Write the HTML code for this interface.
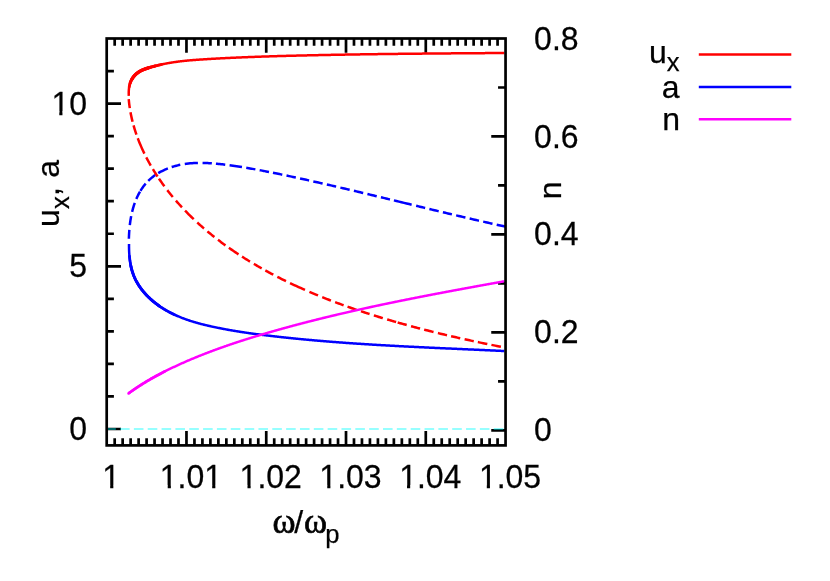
<!DOCTYPE html>
<html><head><meta charset="utf-8"><title>plot</title>
<style>html,body{margin:0;padding:0;background:#fff;}svg{display:block;}text{font-family:"Liberation Sans",sans-serif;fill:#000;}.sym{font-family:"Liberation Serif",serif;}</style></head><body>
<svg width="830" height="581" viewBox="0 0 830 581">
<rect width="830" height="581" fill="#fff"/>
<path d="M114.68 445.4 V438.2 M114.68 38.5 V45.7 M122.65 445.4 V438.2 M122.65 38.5 V45.7 M130.63 445.4 V438.2 M130.63 38.5 V45.7 M138.61 445.4 V438.2 M138.61 38.5 V45.7 M146.59 445.4 V438.2 M146.59 38.5 V45.7 M154.56 445.4 V438.2 M154.56 38.5 V45.7 M162.54 445.4 V438.2 M162.54 38.5 V45.7 M170.52 445.4 V438.2 M170.52 38.5 V45.7 M178.49 445.4 V438.2 M178.49 38.5 V45.7 M186.47 445.4 V431.1 M186.47 38.5 V52.8 M194.45 445.4 V438.2 M194.45 38.5 V45.7 M202.42 445.4 V438.2 M202.42 38.5 V45.7 M210.4 445.4 V438.2 M210.4 38.5 V45.7 M218.38 445.4 V438.2 M218.38 38.5 V45.7 M226.36 445.4 V438.2 M226.36 38.5 V45.7 M234.33 445.4 V438.2 M234.33 38.5 V45.7 M242.31 445.4 V438.2 M242.31 38.5 V45.7 M250.29 445.4 V438.2 M250.29 38.5 V45.7 M258.26 445.4 V438.2 M258.26 38.5 V45.7 M266.24 445.4 V431.1 M266.24 38.5 V52.8 M274.22 445.4 V438.2 M274.22 38.5 V45.7 M282.19 445.4 V438.2 M282.19 38.5 V45.7 M290.17 445.4 V438.2 M290.17 38.5 V45.7 M298.15 445.4 V438.2 M298.15 38.5 V45.7 M306.12 445.4 V438.2 M306.12 38.5 V45.7 M314.1 445.4 V438.2 M314.1 38.5 V45.7 M322.08 445.4 V438.2 M322.08 38.5 V45.7 M330.06 445.4 V438.2 M330.06 38.5 V45.7 M338.03 445.4 V438.2 M338.03 38.5 V45.7 M346.01 445.4 V431.1 M346.01 38.5 V52.8 M353.99 445.4 V438.2 M353.99 38.5 V45.7 M361.96 445.4 V438.2 M361.96 38.5 V45.7 M369.94 445.4 V438.2 M369.94 38.5 V45.7 M377.92 445.4 V438.2 M377.92 38.5 V45.7 M385.89 445.4 V438.2 M385.89 38.5 V45.7 M393.87 445.4 V438.2 M393.87 38.5 V45.7 M401.85 445.4 V438.2 M401.85 38.5 V45.7 M409.83 445.4 V438.2 M409.83 38.5 V45.7 M417.8 445.4 V438.2 M417.8 38.5 V45.7 M425.78 445.4 V431.1 M425.78 38.5 V52.8 M433.76 445.4 V438.2 M433.76 38.5 V45.7 M441.73 445.4 V438.2 M441.73 38.5 V45.7 M449.71 445.4 V438.2 M449.71 38.5 V45.7 M457.69 445.4 V438.2 M457.69 38.5 V45.7 M465.66 445.4 V438.2 M465.66 38.5 V45.7 M473.64 445.4 V438.2 M473.64 38.5 V45.7 M481.62 445.4 V438.2 M481.62 38.5 V45.7 M489.6 445.4 V438.2 M489.6 38.5 V45.7 M497.57 445.4 V438.2 M497.57 38.5 V45.7 M106.7 429 H121 M106.7 396.46 H113.9 M106.7 363.92 H113.9 M106.7 331.38 H113.9 M106.7 298.83 H113.9 M106.7 266.29 H121 M106.7 233.75 H113.9 M106.7 201.21 H113.9 M106.7 168.67 H113.9 M106.7 136.12 H113.9 M106.7 103.58 H121 M106.7 71.04 H113.9 M505.55 430.3 H491.25 M505.55 381.32 H498.05 M505.55 332.35 H491.25 M505.55 283.38 H498.05 M505.55 234.4 H491.25 M505.55 185.43 H498.05 M505.55 136.45 H491.25 M505.55 87.48 H498.05" stroke="#000" stroke-width="2.7" fill="none"/>
<line x1="106.2" y1="429" x2="505.55" y2="429" stroke="#00ffff" stroke-opacity="0.41" stroke-width="2" stroke-dasharray="9.6 4.24"/>
<path d="M129.02 243.88 L129.02 244.48 L129.01 245.07 L129.01 245.67 L129.01 246.26 L129.02 246.86 L129.03 247.46 L129.04 248.07 L129.05 248.67 L129.06 249.28 L129.08 249.88 L129.10 250.49 L129.13 251.10 L129.15 251.71 L129.18 252.32 L129.22 252.93 L129.25 253.54 L129.30 254.15 L129.34 254.76 L129.39 255.38 L129.44 255.99 L129.49 256.60 L129.55 257.22 L129.62 257.83 L129.68 258.44 L129.75 259.05 L129.83 259.66 L129.91 260.27 L129.99 260.89 L130.08 261.50 L130.17 262.10 L130.27 262.71 L130.37 263.32 L130.48 263.92 L130.59 264.53 L130.71 265.13 L130.83 265.73 L130.96 266.33 L131.09 266.93 L131.23 267.53 L131.37 268.12 L131.52 268.72 L131.68 269.31 L131.84 269.89 L132.00 270.48 L132.17 271.06 L132.35 271.65 L132.53 272.22 L132.72 272.80 L132.92 273.37 L133.12 273.94 L133.32 274.51 L133.54 275.07 L133.76 275.63 L133.98 276.19 L134.22 276.75 L134.45 277.30 L134.70 277.85 L134.95 278.39 L135.20 278.94 L135.47 279.48 L135.73 280.01 L136.00 280.55 L136.28 281.08 L136.57 281.61 L136.86 282.13 L137.15 282.65 L137.45 283.17 L137.76 283.69 L138.07 284.20 L138.38 284.71 L138.70 285.21 L139.03 285.72 L139.36 286.22 L139.69 286.71 L140.03 287.21 L140.38 287.70 L140.73 288.18 L141.08 288.67 L141.44 289.15 L141.81 289.63 L142.17 290.10 L142.55 290.57 L142.92 291.04 L143.31 291.51 L143.69 291.97 L144.08 292.43 L144.48 292.88 L144.87 293.34 L145.28 293.78 L145.68 294.23 L146.09 294.67 L146.51 295.11 L146.92 295.55 L147.35 295.98 L147.77 296.41 L148.20 296.84 L148.63 297.26 L149.07 297.68 L149.51 298.10 L149.95 298.51 L150.40 298.92 L150.85 299.33 L151.30 299.74 L151.76 300.14 L152.21 300.53 L152.68 300.93 L153.14 301.32 L153.61 301.71 L154.08 302.09 L154.55 302.47 L155.03 302.85 L155.51 303.22 L155.99 303.60 L156.47 303.96 L156.96 304.33 L157.45 304.69 L157.94 305.05 L158.44 305.40 L158.93 305.75 L159.43 306.10 L159.93 306.44 L160.43 306.79 L160.94 307.12 L161.45 307.46 L161.95 307.79 L162.46 308.12 L162.98 308.44 L163.49 308.76 L164.01 309.08 L164.52 309.39 L165.04 309.70 L165.56 310.01 L166.09 310.32 L166.61 310.62 L167.14 310.91 L167.66 311.21 L168.19 311.50 L168.72 311.79 L169.25 312.07 L169.79 312.36 L170.32 312.63 L170.86 312.91 L171.40 313.18 L171.94 313.45 L172.48 313.72 L173.02 313.99 L173.56 314.25 L174.11 314.50 L174.65 314.76 L175.20 315.01 L175.75 315.26 L176.30 315.51 L176.85 315.76 L177.40 316.00 L177.96 316.24 L178.51 316.47 L179.07 316.71 L179.63 316.94 L180.19 317.17 L180.75 317.39 L181.31 317.62 L181.87 317.84 L182.43 318.06 L183.00 318.27 L183.56 318.49 L184.13 318.70 L184.70 318.91 L185.26 319.12 L185.83 319.32 L186.40 319.52 L186.98 319.72 L187.55 319.92 L188.12 320.12 L188.69 320.31 L189.27 320.50 L189.85 320.69 L190.42 320.88 L191.00 321.07 L191.58 321.25 L192.16 321.43 L192.74 321.61 L193.32 321.79 L193.90 321.96 L194.48 322.14 L195.06 322.31 L195.65 322.48 L196.23 322.65 L196.81 322.81 L197.40 322.98 L197.99 323.14 L198.57 323.30 L199.16 323.46 L199.75 323.62 L200.34 323.78 L200.92 323.93 L201.51 324.09 L202.10 324.24 L202.69 324.39 L203.28 324.54 L203.87 324.69 L204.47 324.83 L205.06 324.98 L205.65 325.12 L206.24 325.26 L206.83 325.40 L207.43 325.54 L208.02 325.68 L208.61 325.82 L209.21 325.95 L209.80 326.09 L210.40 326.22 L210.99 326.35 L211.59 326.48 L212.18 326.61 L212.78 326.74 L213.37 326.87 L213.97 327.00 L214.56 327.13 L215.16 327.25 L215.75 327.38 L216.35 327.50 L216.94 327.62 L217.54 327.74 L218.14 327.87 L218.73 327.99 L219.33 328.10 L219.92 328.22 L220.52 328.34 L221.11 328.46 L221.71 328.57 L222.31 328.69 L222.90 328.80 L223.50 328.92 L224.10 329.03 L224.69 329.14 L225.29 329.25 L225.88 329.36 L226.48 329.47 L227.08 329.58 L227.67 329.69 L228.27 329.80 L228.87 329.90 L229.46 330.01 L230.06 330.12 L230.66 330.22 L231.25 330.32 L231.85 330.43 L232.45 330.53 L233.05 330.63 L233.64 330.73 L234.24 330.83 L234.84 330.93 L235.43 331.03 L236.03 331.13 L236.63 331.23 L237.23 331.32 L237.82 331.42 L238.42 331.52 L239.02 331.61 L239.62 331.70 L240.21 331.80 L240.81 331.89 L241.41 331.98 L242.01 332.08 L242.60 332.17 L243.20 332.26 L243.80 332.35 L244.40 332.44 L245.00 332.53 L245.59 332.62 L246.19 332.70 L246.79 332.79 L247.39 332.88 L247.99 332.96 L248.59 333.05 L249.18 333.14 L249.78 333.22 L250.38 333.30 L250.98 333.39 L251.58 333.47 L252.18 333.55 L252.77 333.64 L253.37 333.72 L253.97 333.80 L254.57 333.88 L255.17 333.96 L255.77 334.04 L256.37 334.12 L256.97 334.20 L257.56 334.28 L258.16 334.36 L258.76 334.43 L259.36 334.51 L259.96 334.59 L260.56 334.66 L261.16 334.74 L261.76 334.82 L262.36 334.89 L262.96 334.97 L263.56 335.04 L264.16 335.12 L264.76 335.19 L265.36 335.26 L265.95 335.34 L266.55 335.41 L267.15 335.48 L267.75 335.55 L268.35 335.63 L268.95 335.70 L269.55 335.77 L270.15 335.84 L270.75 335.91 L271.35 335.98 L271.95 336.05 L272.55 336.12 L273.15 336.19 L273.75 336.26 L274.35 336.33 L274.95 336.40 L275.55 336.47 L276.15 336.54 L276.75 336.60 L277.35 336.67 L277.96 336.74 L278.56 336.81 L279.16 336.87 L279.76 336.94 L280.36 337.01 L280.96 337.07 L281.56 337.14 L282.16 337.20 L282.76 337.27 L283.36 337.33 L283.96 337.40 L284.56 337.46 L285.16 337.53 L285.76 337.59 L286.36 337.66 L286.97 337.72 L287.57 337.78 L288.17 337.85 L288.77 337.91 L289.37 337.97 L289.97 338.03 L290.57 338.10 L291.17 338.16 L291.78 338.22 L292.38 338.28 L292.98 338.34 L293.58 338.40 L294.18 338.46 L294.78 338.53 L295.38 338.59 L295.99 338.65 L296.59 338.71 L297.19 338.76 L297.79 338.82 L298.39 338.88 L298.99 338.94 L299.59 339.00 L300.20 339.06 L300.80 339.12 L301.40 339.17 L302.00 339.23 L302.60 339.29 L303.21 339.35 L303.81 339.40 L304.41 339.46 L305.01 339.52 L305.61 339.57 L306.22 339.63 L306.82 339.69 L307.42 339.74 L308.02 339.80 L308.62 339.85 L309.23 339.91 L309.83 339.96 L310.43 340.02 L311.03 340.07 L311.64 340.12 L312.24 340.18 L312.84 340.23 L313.44 340.29 L314.05 340.34 L314.65 340.39 L315.25 340.45 L315.85 340.50 L316.46 340.55 L317.06 340.60 L317.66 340.65 L318.26 340.71 L318.87 340.76 L319.47 340.81 L320.07 340.86 L320.68 340.91 L321.28 340.96 L321.88 341.01 L322.48 341.06 L323.09 341.11 L323.69 341.16 L324.29 341.21 L324.90 341.26 L325.50 341.31 L326.10 341.36 L326.70 341.41 L327.31 341.46 L327.91 341.51 L328.51 341.56 L329.12 341.60 L329.72 341.65 L330.32 341.70 L330.93 341.75 L331.53 341.80 L332.13 341.84 L332.74 341.89 L333.34 341.94 L333.94 341.98 L334.55 342.03 L335.15 342.08 L335.75 342.12 L336.36 342.17 L336.96 342.21 L337.56 342.26 L338.17 342.31 L338.77 342.35 L339.38 342.40 L339.98 342.44 L340.58 342.49 L341.19 342.53 L341.79 342.58 L342.39 342.62 L343.00 342.66 L343.60 342.71 L344.20 342.75 L344.81 342.79 L345.41 342.84 L346.02 342.88 L346.62 342.92 L347.22 342.97 L347.83 343.01 L348.43 343.05 L349.04 343.09 L349.64 343.14 L350.24 343.18 L350.85 343.22 L351.45 343.26 L352.05 343.30 L352.66 343.35 L353.26 343.39 L353.87 343.43 L354.47 343.47 L355.08 343.51 L355.68 343.55 L356.28 343.59 L356.89 343.63 L357.49 343.67 L358.10 343.71 L358.70 343.75 L359.30 343.79 L359.91 343.83 L360.51 343.87 L361.12 343.91 L361.72 343.95 L362.33 343.99 L362.93 344.03 L363.53 344.07 L364.14 344.11 L364.74 344.14 L365.35 344.18 L365.95 344.22 L366.56 344.26 L367.16 344.30 L367.76 344.33 L368.37 344.37 L368.97 344.41 L369.58 344.45 L370.18 344.48 L370.79 344.52 L371.39 344.56 L372.00 344.59 L372.60 344.63 L373.20 344.67 L373.81 344.70 L374.41 344.74 L375.02 344.78 L375.62 344.81 L376.23 344.85 L376.83 344.89 L377.44 344.92 L378.04 344.96 L378.65 344.99 L379.25 345.03 L379.86 345.06 L380.46 345.10 L381.06 345.13 L381.67 345.17 L382.27 345.20 L382.88 345.24 L383.48 345.27 L384.09 345.31 L384.69 345.34 L385.30 345.37 L385.90 345.41 L386.51 345.44 L387.11 345.48 L387.72 345.51 L388.32 345.54 L388.93 345.58 L389.53 345.61 L390.14 345.64 L390.74 345.68 L391.35 345.71 L391.95 345.74 L392.55 345.78 L393.16 345.81 L393.76 345.84 L394.37 345.87 L394.97 345.91 L395.58 345.94 L396.18 345.97 L396.79 346.00 L397.39 346.04 L398.00 346.07 L398.60 346.10 L399.21 346.13 L399.81 346.16 L400.42 346.20 L401.02 346.23 L401.63 346.26 L402.23 346.29 L402.84 346.32 L403.44 346.35 L404.05 346.38 L404.65 346.42 L405.26 346.45 L405.86 346.48 L406.47 346.51 L407.07 346.54 L407.68 346.57 L408.28 346.60 L408.89 346.63 L409.49 346.66 L410.10 346.69 L410.70 346.72 L411.31 346.75 L411.91 346.78 L412.52 346.81 L413.12 346.84 L413.73 346.87 L414.33 346.90 L414.94 346.93 L415.54 346.96 L416.15 346.99 L416.75 347.02 L417.36 347.05 L417.96 347.08 L418.57 347.11 L419.17 347.14 L419.77 347.17 L420.38 347.20 L420.98 347.23 L421.59 347.25 L422.19 347.28 L422.80 347.31 L423.40 347.34 L424.01 347.37 L424.61 347.40 L425.22 347.43 L425.82 347.46 L426.43 347.49 L427.03 347.51 L427.64 347.54 L428.24 347.57 L428.85 347.60 L429.45 347.63 L430.06 347.66 L430.66 347.68 L431.27 347.71 L431.87 347.74 L432.48 347.77 L433.08 347.80 L433.69 347.82 L434.29 347.85 L434.90 347.88 L435.50 347.91 L436.11 347.94 L436.71 347.96 L437.32 347.99 L437.92 348.02 L438.53 348.05 L439.13 348.07 L439.74 348.10 L440.34 348.13 L440.94 348.16 L441.55 348.19 L442.15 348.21 L442.76 348.24 L443.36 348.27 L443.97 348.30 L444.57 348.32 L445.18 348.35 L445.78 348.38 L446.39 348.40 L446.99 348.43 L447.60 348.46 L448.20 348.49 L448.81 348.51 L449.41 348.54 L450.01 348.57 L450.62 348.59 L451.22 348.62 L451.83 348.65 L452.43 348.68 L453.04 348.70 L453.64 348.73 L454.25 348.76 L454.85 348.78 L455.46 348.81 L456.06 348.84 L456.66 348.87 L457.27 348.89 L457.87 348.92 L458.48 348.95 L459.08 348.97 L459.69 349.00 L460.29 349.03 L460.90 349.05 L461.50 349.08 L462.10 349.11 L462.71 349.13 L463.31 349.16 L463.92 349.19 L464.52 349.22 L465.13 349.24 L465.73 349.27 L466.33 349.30 L466.94 349.32 L467.54 349.35 L468.15 349.38 L468.75 349.40 L469.36 349.43 L469.96 349.46 L470.56 349.48 L471.17 349.51 L471.77 349.54 L472.38 349.57 L472.98 349.59 L473.58 349.62 L474.19 349.65 L474.79 349.67 L475.40 349.70 L476.00 349.73 L476.60 349.76 L477.21 349.78 L477.81 349.81 L478.42 349.84 L479.02 349.86 L479.62 349.89 L480.23 349.92 L480.83 349.95 L481.44 349.97 L482.04 350.00 L482.64 350.03 L483.25 350.05 L483.85 350.08 L484.45 350.11 L485.06 350.14 L485.66 350.16 L486.27 350.19 L486.87 350.22 L487.47 350.25 L488.08 350.27 L488.68 350.30 L489.28 350.33 L489.89 350.36 L490.49 350.38 L491.09 350.41 L491.70 350.44 L492.30 350.47 L492.90 350.50 L493.51 350.52 L494.11 350.55 L494.71 350.58 L495.32 350.61 L495.92 350.64 L496.52 350.66 L497.13 350.69 L497.73 350.72 L498.33 350.75 L498.94 350.78 L499.54 350.81 L500.14 350.83 L500.75 350.86 L501.35 350.89 L501.95 350.92 L502.56 350.95 L503.16 350.98 L503.76 351.01 L504.36 351.03" fill="none" stroke="#0000ff" stroke-width="2.5" stroke-linejoin="round" stroke-linecap="butt"/>
<path d="M129.44 256.02 L129.61 257.74 L129.80 259.45 L130.03 261.16 L130.30 262.86 L130.60 264.55 L130.94 266.24 L131.32 267.91 L131.74 269.56 L132.21 271.20 L132.73 272.82 L133.29 274.41 L133.90 275.98 L134.56 277.53 L135.26 279.06 L136.01 280.56 L136.80 282.04 L137.64 283.49 L138.51 284.92 L139.43 286.32 L140.38 287.70 L141.37 289.06 L142.40 290.39 L143.46 291.69 L144.56 292.97 L145.68 294.23 L146.84 295.46 L148.03 296.67 L149.24 297.85 L150.48 299.00 L151.75 300.13 L153.04 301.24 L154.36 302.31 L155.69 303.37 L157.05 304.39 L158.42 305.39 L159.82 306.37 L161.23 307.31 L162.65 308.24 L164.09 309.13 L165.55 310.00 L167.01 310.84 L168.49 311.66 L169.98 312.46 L171.48 313.23 L172.99 313.97 L174.52 314.70" fill="none" stroke="#0000ff" stroke-width="2.7" stroke-linejoin="round" stroke-linecap="round"/>
<path d="M130.88 265.96 L131.25 267.63 L131.67 269.29 L132.13 270.93 L132.64 272.55 L133.19 274.15 L133.79 275.72 L134.44 277.28 L135.14 278.81 L135.88 280.31 L136.67 281.79 L137.50 283.25 L138.36 284.68 L139.27 286.09 L140.22 287.47 L141.21 288.83 L142.23 290.17 L143.28 291.48 L144.37 292.76 L145.49 294.02 L146.64 295.26 L147.83 296.47 L149.04 297.65 L150.27 298.81 L151.54 299.94 L152.82 301.05 L154.13 302.14 L155.47 303.19 L156.82 304.22 L158.19 305.23 L159.58 306.21" fill="none" stroke="#0000ff" stroke-width="2.9" stroke-linejoin="round" stroke-linecap="round"/>
<path d="M128.88 238.80 L128.92 237.66 L128.96 236.52 L129.02 235.09 L129.08 233.95 L129.17 232.51 L129.24 231.36 L129.35 229.92 M129.83 225.02 L129.96 223.87 L130.11 222.72 L130.31 221.28 L130.48 220.13 L130.72 218.69 L130.92 217.55 L131.18 216.12 M132.11 211.85 L132.39 210.72 L132.76 209.32 L133.07 208.20 L133.48 206.80 L133.82 205.69 L134.28 204.31 L134.76 202.94 M136.36 198.89 L136.83 197.82 L137.31 196.76 L137.82 195.71 L138.34 194.67 L138.88 193.64 L139.44 192.62 L140.02 191.62 M140.46 190.87 L141.07 189.88 L141.70 188.91 L142.52 187.71 L143.19 186.77 L144.06 185.61 L144.77 184.71 L145.69 183.60 M148.24 180.86 L149.06 180.05 L150.12 179.08 L150.99 178.32 L152.09 177.40 L153.00 176.69 L154.15 175.83 L155.33 175.00 M158.25 173.13 L159.50 172.40 L160.77 171.70 L162.06 171.03 L163.62 170.26 L164.93 169.66 L166.26 169.08 L167.87 168.43 M171.68 167.06 L172.78 166.71 L173.88 166.38 L175.26 165.99 L176.37 165.69 L177.76 165.35 L178.87 165.09 L180.27 164.79 M184.77 164.00 L186.47 163.76 L188.46 163.52 L190.17 163.35 L192.17 163.18 L193.89 163.07 L195.91 162.98 L197.92 162.92 M202.55 162.90 L203.71 162.92 L205.16 162.96 L206.32 163.00 L207.77 163.07 L208.94 163.13 L210.39 163.21 L211.85 163.31 M215.92 163.65 L217.09 163.75 L218.54 163.90 L219.71 164.02 L221.16 164.18 L222.32 164.32 L223.78 164.49 L225.23 164.67 M229.58 165.24 L231.32 165.48 L233.05 165.73 L234.78 165.98 L236.51 166.24 L238.23 166.50 L239.96 166.76 L241.97 167.08 M246.26 167.78 L247.41 167.98 L248.83 168.22 L249.98 168.42 L251.40 168.67 L252.54 168.87 L253.97 169.12 L255.39 169.38 M259.65 170.16 L260.79 170.37 L262.21 170.64 L263.62 170.91 L264.76 171.13 L266.17 171.41 L267.59 171.68 L269.00 171.96 M272.96 172.75 L274.09 172.98 L275.51 173.27 L276.92 173.56 L278.05 173.79 L279.46 174.08 L280.87 174.38 L282.28 174.67 M286.52 175.56 L287.64 175.80 L289.06 176.10 L290.47 176.40 L291.59 176.64 L293.01 176.94 L294.42 177.25 L295.83 177.55 M300.06 178.47 L301.19 178.72 L302.60 179.03 L303.72 179.28 L305.13 179.59 L306.26 179.84 L307.67 180.15 L309.08 180.46 M313.31 181.41 L314.44 181.66 L315.85 181.98 L317.26 182.30 L318.39 182.55 L319.80 182.87 L321.21 183.19 L322.62 183.51 M326.84 184.48 L327.97 184.74 L329.38 185.06 L330.79 185.38 L331.92 185.64 L333.33 185.97 L334.74 186.30 L336.15 186.62 M340.37 187.61 L341.50 187.87 L342.91 188.20 L344.32 188.53 L345.45 188.80 L346.86 189.13 L348.26 189.46 L349.67 189.79 M353.90 190.79 L355.03 191.06 L356.44 191.39 L357.84 191.73 L358.97 192.00 L360.38 192.33 L361.79 192.67 L363.20 193.01 M367.42 194.02 L368.55 194.29 L369.96 194.62 L371.37 194.96 L372.49 195.23 L373.90 195.57 L375.31 195.91 L376.72 196.25 M380.94 197.27 L382.07 197.54 L383.48 197.88 L384.61 198.15 L386.01 198.49 L387.14 198.77 L388.55 199.11 L389.96 199.45 M393.90 200.40 L396.43 201.02 L398.97 201.63 L401.50 202.25 L404.04 202.86 L406.57 203.48 L409.11 204.09 L411.64 204.70 M416.15 205.80 L417.28 206.07 L418.68 206.41 L419.81 206.68 L421.22 207.02 L422.34 207.29 L423.75 207.63 L425.16 207.97 M429.38 208.99 L430.51 209.26 L431.92 209.60 L433.33 209.94 L434.45 210.21 L435.86 210.55 L437.27 210.89 L438.68 211.22 M442.90 212.23 L444.03 212.50 L445.44 212.84 L446.56 213.11 L447.97 213.44 L449.10 213.71 L450.51 214.04 L451.91 214.38 M456.14 215.37 L457.27 215.64 L458.67 215.97 L460.08 216.30 L461.21 216.57 L462.62 216.90 L464.03 217.23 L465.43 217.55 M469.66 218.54 L470.79 218.80 L472.19 219.13 L473.60 219.45 L474.73 219.71 L476.14 220.03 L477.55 220.36 L478.95 220.68 M483.18 221.65 L484.31 221.90 L485.72 222.22 L487.12 222.54 L488.25 222.79 L489.66 223.11 L491.07 223.43 L492.48 223.74 M496.70 224.68 L497.83 224.93 L498.96 225.18 L500.37 225.49 L501.49 225.74 L502.90 226.05 L504.03 226.30 L505.44 226.61" fill="none" stroke="#0000ff" stroke-width="2.5"/>
<path d="M128.81 95.82 L128.78 95.27 L128.76 94.72 L128.74 94.16 L128.73 93.60 L128.73 93.03 L128.73 92.46 L128.74 91.89 L128.76 91.32 L128.79 90.74 L128.83 90.16 L128.87 89.59 L128.93 89.01 L128.99 88.43 L129.07 87.86 L129.15 87.29 L129.25 86.71 L129.35 86.15 L129.47 85.58 L129.60 85.02 L129.74 84.46 L129.90 83.91 L130.06 83.37 L130.24 82.83 L130.43 82.29 L130.64 81.77 L130.86 81.25 L131.09 80.74 L131.34 80.23 L131.59 79.74 L131.87 79.25 L132.15 78.77 L132.44 78.30 L132.75 77.84 L133.07 77.39 L133.40 76.94 L133.74 76.51 L134.09 76.08 L134.46 75.67 L134.83 75.26 L135.22 74.86 L135.61 74.48 L136.02 74.10 L136.43 73.73 L136.85 73.38 L137.29 73.03 L137.73 72.70 L138.18 72.38 L138.64 72.07 L139.11 71.77 L139.58 71.48 L140.06 71.20 L140.55 70.93 L141.05 70.68 L141.56 70.43 L142.07 70.19 L142.58 69.96 L143.10 69.74 L143.63 69.53 L144.16 69.32 L144.69 69.12 L145.23 68.93 L145.77 68.74 L146.31 68.56 L146.85 68.38 L147.40 68.21 L147.95 68.04 L148.50 67.87 L149.05 67.71 L149.60 67.55 L150.15 67.39 L150.70 67.23 L151.25 67.07 L151.79 66.92 L152.34 66.76 L152.89 66.61 L153.44 66.46 L153.99 66.31 L154.54 66.17 L155.08 66.02 L155.63 65.88 L156.18 65.74 L156.73 65.60 L157.28 65.46 L157.83 65.33 L158.37 65.20 L158.92 65.07 L159.47 64.94 L160.02 64.81 L160.57 64.68 L161.12 64.56 L161.67 64.44 L162.22 64.32 L162.77 64.20 L163.32 64.08 L163.87 63.97 L164.42 63.86 L164.97 63.75 L165.53 63.64 L166.08 63.53 L166.63 63.43 L167.18 63.32 L167.74 63.22 L168.29 63.12 L168.85 63.02 L169.40 62.93 L169.95 62.83 L170.51 62.74 L171.06 62.65 L171.62 62.56 L172.18 62.47 L172.73 62.38 L173.29 62.30 L173.84 62.21 L174.40 62.13 L174.96 62.05 L175.52 61.97 L176.07 61.89 L176.63 61.81 L177.19 61.74 L177.75 61.67 L178.31 61.59 L178.86 61.52 L179.42 61.45 L179.98 61.38 L180.54 61.31 L181.10 61.25 L181.66 61.18 L182.22 61.12 L182.78 61.06 L183.34 60.99 L183.90 60.93 L184.46 60.87 L185.02 60.82 L185.59 60.76 L186.15 60.70 L186.71 60.65 L187.27 60.59 L187.83 60.54 L188.39 60.49 L188.95 60.44 L189.52 60.38 L190.08 60.33 L190.64 60.29 L191.20 60.24 L191.77 60.19 L192.33 60.14 L192.89 60.10 L193.46 60.05 L194.02 60.01 L194.58 59.96 L195.14 59.92 L195.71 59.88 L196.27 59.84 L196.83 59.80 L197.40 59.76 L197.96 59.72 L198.53 59.68 L199.09 59.64 L199.65 59.60 L200.22 59.56 L200.78 59.52 L201.35 59.49 L201.91 59.45 L202.47 59.41 L203.04 59.38 L203.60 59.34 L204.17 59.31 L204.73 59.27 L205.29 59.24 L205.86 59.20 L206.42 59.17 L206.99 59.13 L207.55 59.10 L208.12 59.07 L208.68 59.03 L209.24 59.00 L209.81 58.97 L210.37 58.93 L210.94 58.90 L211.50 58.87 L212.06 58.84 L212.63 58.81 L213.19 58.77 L213.76 58.74 L214.32 58.71 L214.89 58.68 L215.45 58.65 L216.01 58.62 L216.58 58.59 L217.14 58.55 L217.71 58.52 L218.27 58.49 L218.84 58.46 L219.40 58.43 L219.96 58.40 L220.53 58.37 L221.09 58.34 L221.66 58.32 L222.22 58.29 L222.78 58.26 L223.35 58.23 L223.91 58.20 L224.48 58.17 L225.04 58.14 L225.60 58.12 L226.17 58.09 L226.73 58.06 L227.30 58.03 L227.86 58.00 L228.43 57.98 L228.99 57.95 L229.55 57.92 L230.12 57.90 L230.68 57.87 L231.25 57.84 L231.81 57.82 L232.37 57.79 L232.94 57.76 L233.50 57.74 L234.07 57.71 L234.63 57.69 L235.19 57.66 L235.76 57.64 L236.32 57.61 L236.89 57.59 L237.45 57.56 L238.02 57.54 L238.58 57.51 L239.14 57.49 L239.71 57.46 L240.27 57.44 L240.84 57.41 L241.40 57.39 L241.96 57.37 L242.53 57.34 L243.09 57.32 L243.66 57.30 L244.22 57.27 L244.78 57.25 L245.35 57.23 L245.91 57.21 L246.48 57.18 L247.04 57.16 L247.61 57.14 L248.17 57.12 L248.73 57.09 L249.30 57.07 L249.86 57.05 L250.43 57.03 L250.99 57.01 L251.55 56.99 L252.12 56.96 L252.68 56.94 L253.25 56.92 L253.81 56.90 L254.37 56.88 L254.94 56.86 L255.50 56.84 L256.07 56.82 L256.63 56.80 L257.19 56.78 L257.76 56.76 L258.32 56.74 L258.89 56.72 L259.45 56.70 L260.01 56.68 L260.58 56.66 L261.14 56.64 L261.71 56.62 L262.27 56.60 L262.84 56.58 L263.40 56.56 L263.96 56.54 L264.53 56.53 L265.09 56.51 L265.66 56.49 L266.22 56.47 L266.78 56.45 L267.35 56.43 L267.91 56.42 L268.48 56.40 L269.04 56.38 L269.60 56.36 L270.17 56.34 L270.73 56.33 L271.30 56.31 L271.86 56.29 L272.42 56.28 L272.99 56.26 L273.55 56.24 L274.12 56.22 L274.68 56.21 L275.25 56.19 L275.81 56.17 L276.37 56.16 L276.94 56.14 L277.50 56.12 L278.07 56.11 L278.63 56.09 L279.19 56.08 L279.76 56.06 L280.32 56.04 L280.89 56.03 L281.45 56.01 L282.01 56.00 L282.58 55.98 L283.14 55.96 L283.71 55.95 L284.27 55.93 L284.84 55.92 L285.40 55.90 L285.96 55.89 L286.53 55.87 L287.09 55.86 L287.66 55.84 L288.22 55.83 L288.78 55.81 L289.35 55.80 L289.91 55.78 L290.48 55.77 L291.04 55.76 L291.61 55.74 L292.17 55.73 L292.73 55.71 L293.30 55.70 L293.86 55.68 L294.43 55.67 L294.99 55.66 L295.55 55.64 L296.12 55.63 L296.68 55.61 L297.25 55.60 L297.81 55.59 L298.38 55.57 L298.94 55.56 L299.50 55.55 L300.07 55.53 L300.63 55.52 L301.20 55.51 L301.76 55.49 L302.32 55.48 L302.89 55.47 L303.45 55.45 L304.02 55.44 L304.58 55.43 L305.15 55.42 L305.71 55.40 L306.27 55.39 L306.84 55.38 L307.40 55.36 L307.97 55.35 L308.53 55.34 L309.10 55.33 L309.66 55.31 L310.22 55.30 L310.79 55.29 L311.35 55.28 L311.92 55.26 L312.48 55.25 L313.05 55.24 L313.61 55.23 L314.17 55.22 L314.74 55.20 L315.30 55.19 L315.87 55.18 L316.43 55.17 L317.00 55.16 L317.56 55.14 L318.12 55.13 L318.69 55.12 L319.25 55.11 L319.82 55.10 L320.38 55.08 L320.95 55.07 L321.51 55.06 L322.07 55.05 L322.64 55.04 L323.20 55.03 L323.77 55.02 L324.33 55.00 L324.90 54.99 L325.46 54.98 L326.02 54.97 L326.59 54.96 L327.15 54.95 L327.72 54.94 L328.28 54.93 L328.85 54.92 L329.41 54.91 L329.98 54.89 L330.54 54.88 L331.10 54.87 L331.67 54.86 L332.23 54.85 L332.80 54.84 L333.36 54.83 L333.93 54.82 L334.49 54.81 L335.05 54.80 L335.62 54.79 L336.18 54.78 L336.75 54.77 L337.31 54.76 L337.88 54.75 L338.44 54.74 L339.01 54.73 L339.57 54.72 L340.13 54.71 L340.70 54.70 L341.26 54.69 L341.83 54.68 L342.39 54.67 L342.96 54.66 L343.52 54.65 L344.08 54.64 L344.65 54.63 L345.21 54.62 L345.78 54.61 L346.34 54.60 L346.91 54.59 L347.47 54.58 L348.04 54.57 L348.60 54.56 L349.16 54.55 L349.73 54.54 L350.29 54.53 L350.86 54.52 L351.42 54.52 L351.99 54.51 L352.55 54.50 L353.12 54.49 L353.68 54.48 L354.24 54.47 L354.81 54.46 L355.37 54.45 L355.94 54.44 L356.50 54.43 L357.07 54.43 L357.63 54.42 L358.20 54.41 L358.76 54.40 L359.32 54.39 L359.89 54.38 L360.45 54.37 L361.02 54.37 L361.58 54.36 L362.15 54.35 L362.71 54.34 L363.28 54.33 L363.84 54.32 L364.41 54.31 L364.97 54.31 L365.53 54.30 L366.10 54.29 L366.66 54.28 L367.23 54.27 L367.79 54.27 L368.36 54.26 L368.92 54.25 L369.49 54.24 L370.05 54.23 L370.61 54.23 L371.18 54.22 L371.74 54.21 L372.31 54.20 L372.87 54.19 L373.44 54.19 L374.00 54.18 L374.57 54.17 L375.13 54.16 L375.69 54.16 L376.26 54.15 L376.82 54.14 L377.39 54.13 L377.95 54.12 L378.52 54.12 L379.08 54.11 L379.65 54.10 L380.21 54.10 L380.78 54.09 L381.34 54.08 L381.90 54.07 L382.47 54.07 L383.03 54.06 L383.60 54.05 L384.16 54.04 L384.73 54.04 L385.29 54.03 L385.86 54.02 L386.42 54.02 L386.99 54.01 L387.55 54.00 L388.11 53.99 L388.68 53.99 L389.24 53.98 L389.81 53.97 L390.37 53.97 L390.94 53.96 L391.50 53.95 L392.07 53.95 L392.63 53.94 L393.20 53.93 L393.76 53.93 L394.32 53.92 L394.89 53.91 L395.45 53.91 L396.02 53.90 L396.58 53.89 L397.15 53.89 L397.71 53.88 L398.28 53.87 L398.84 53.87 L399.40 53.86 L399.97 53.86 L400.53 53.85 L401.10 53.84 L401.66 53.84 L402.23 53.83 L402.79 53.82 L403.36 53.82 L403.92 53.81 L404.49 53.81 L405.05 53.80 L405.61 53.79 L406.18 53.79 L406.74 53.78 L407.31 53.78 L407.87 53.77 L408.44 53.76 L409.00 53.76 L409.57 53.75 L410.13 53.75 L410.70 53.74 L411.26 53.73 L411.82 53.73 L412.39 53.72 L412.95 53.72 L413.52 53.71 L414.08 53.71 L414.65 53.70 L415.21 53.69 L415.78 53.69 L416.34 53.68 L416.91 53.68 L417.47 53.67 L418.03 53.67 L418.60 53.66 L419.16 53.65 L419.73 53.65 L420.29 53.64 L420.86 53.64 L421.42 53.63 L421.99 53.63 L422.55 53.62 L423.12 53.62 L423.68 53.61 L424.24 53.61 L424.81 53.60 L425.37 53.60 L425.94 53.59 L426.50 53.59 L427.07 53.58 L427.63 53.57 L428.20 53.57 L428.76 53.56 L429.33 53.56 L429.89 53.55 L430.45 53.55 L431.02 53.54 L431.58 53.54 L432.15 53.53 L432.71 53.53 L433.28 53.52 L433.84 53.52 L434.41 53.51 L434.97 53.51 L435.54 53.50 L436.10 53.50 L436.66 53.49 L437.23 53.49 L437.79 53.48 L438.36 53.48 L438.92 53.47 L439.49 53.47 L440.05 53.47 L440.62 53.46 L441.18 53.46 L441.75 53.45 L442.31 53.45 L442.87 53.44 L443.44 53.44 L444.00 53.43 L444.57 53.43 L445.13 53.42 L445.70 53.42 L446.26 53.41 L446.83 53.41 L447.39 53.40 L447.95 53.40 L448.52 53.40 L449.08 53.39 L449.65 53.39 L450.21 53.38 L450.78 53.38 L451.34 53.37 L451.91 53.37 L452.47 53.36 L453.04 53.36 L453.60 53.35 L454.16 53.35 L454.73 53.35 L455.29 53.34 L455.86 53.34 L456.42 53.33 L456.99 53.33 L457.55 53.32 L458.12 53.32 L458.68 53.32 L459.24 53.31 L459.81 53.31 L460.37 53.30 L460.94 53.30 L461.50 53.29 L462.07 53.29 L462.63 53.29 L463.20 53.28 L463.76 53.28 L464.33 53.27 L464.89 53.27 L465.45 53.26 L466.02 53.26 L466.58 53.26 L467.15 53.25 L467.71 53.25 L468.28 53.24 L468.84 53.24 L469.41 53.24 L469.97 53.23 L470.53 53.23 L471.10 53.22 L471.66 53.22 L472.23 53.22 L472.79 53.21 L473.36 53.21 L473.92 53.20 L474.49 53.20 L475.05 53.20 L475.61 53.19 L476.18 53.19 L476.74 53.18 L477.31 53.18 L477.87 53.18 L478.44 53.17 L479.00 53.17 L479.57 53.16 L480.13 53.16 L480.69 53.16 L481.26 53.15 L481.82 53.15 L482.39 53.14 L482.95 53.14 L483.52 53.14 L484.08 53.13 L484.64 53.13 L485.21 53.12 L485.77 53.12 L486.34 53.12 L486.90 53.11 L487.47 53.11 L488.03 53.10 L488.60 53.10 L489.16 53.10 L489.72 53.09 L490.29 53.09 L490.85 53.08 L491.42 53.08 L491.98 53.08 L492.55 53.07 L493.11 53.07 L493.68 53.07 L494.24 53.06 L494.80 53.06 L495.37 53.05 L495.93 53.05 L496.50 53.05 L497.06 53.04 L497.63 53.04 L498.19 53.04 L498.75 53.03 L499.32 53.03 L499.88 53.02 L500.45 53.02 L501.01 53.02 L501.58 53.01 L502.14 53.01 L502.70 53.00 L503.27 53.00 L503.83 53.00 L504.40 52.99" fill="none" stroke="#ff0000" stroke-width="2.5" stroke-linejoin="round" stroke-linecap="butt"/>
<path d="M129.19 87.06 L129.50 85.48 L129.89 83.92 L130.39 82.41 L130.99 80.95 L131.70 79.55 L132.50 78.22 L133.39 76.95 L134.37 75.76 L135.44 74.64 L136.58 73.60 L137.80 72.65 L139.09 71.78 L140.44 71.00 L141.84 70.29 L143.29 69.66 L144.77 69.09 L146.28 68.57 L147.81 68.08 L149.35 67.62 L150.89 67.17 L152.42 66.74 L153.96 66.32 L155.49 65.92 L157.02 65.53 L158.56 65.15 L160.09 64.79 L161.63 64.45" fill="none" stroke="#ff0000" stroke-width="2.8" stroke-linejoin="round" stroke-linecap="round"/>
<path d="M130.21 82.91 L130.78 81.43 L131.45 80.01 L132.22 78.66 L133.08 77.37 L134.04 76.15 L135.08 75.01 L136.19 73.94 L137.39 72.96 L138.65 72.06 L139.98 71.25 L141.37 70.52 L142.80 69.87 L144.27 69.28 L145.78 68.74 L147.30 68.24 L148.84 67.77 L150.37 67.32 L151.91 66.88 L153.44 66.46 L154.98 66.05" fill="none" stroke="#ff0000" stroke-width="3.1" stroke-linejoin="round" stroke-linecap="round"/>
<path d="M131.95 79.10 L132.78 77.79 L133.71 76.55 L134.72 75.38 L135.81 74.29 L136.98 73.28 L138.22 72.35 L139.53 71.51 L140.90 70.75 L142.32 70.08 L143.78 69.47 L145.27 68.91 L146.79 68.40 L148.32 67.92" fill="none" stroke="#ff0000" stroke-width="3.4" stroke-linejoin="round" stroke-linecap="round"/>
<path d="M128.74 99.14 L128.85 100.43 L128.98 101.72 L129.12 103.01 L129.27 104.29 L129.44 105.58 L129.61 106.86 L129.80 108.13 M130.50 112.26 L130.73 113.53 L130.98 114.79 L131.25 116.05 L131.59 117.62 L131.87 118.88 L132.17 120.13 L132.56 121.69 M133.55 125.41 L133.91 126.65 L134.27 127.88 L134.64 129.11 L135.12 130.65 L135.52 131.87 L135.93 133.09 L136.45 134.61 M137.76 138.23 L138.57 140.33 L139.40 142.43 L140.39 144.80 L141.28 146.87 L142.33 149.22 L143.28 151.27 L144.39 153.59 M146.27 157.33 L146.86 158.47 L147.46 159.61 L148.07 160.75 L148.69 161.88 L149.31 163.01 L149.94 164.13 L150.74 165.53 M152.88 169.14 L153.38 169.97 L154.06 171.07 L154.74 172.16 L155.43 173.25 L156.13 174.34 L156.83 175.42 L157.54 176.50 M158.98 178.65 L159.71 179.71 L160.44 180.77 L161.18 181.83 L161.93 182.89 L162.68 183.93 L163.44 184.98 L164.40 186.28 M167.33 190.14 L167.92 190.90 L168.72 191.92 L169.53 192.93 L170.33 193.94 L171.15 194.94 L171.97 195.94 L172.79 196.93 M175.93 200.61 L176.77 201.59 L177.62 202.55 L178.48 203.52 L179.34 204.47 L180.21 205.43 L181.08 206.38 L181.95 207.32 M185.05 210.59 L186.17 211.74 L187.30 212.89 L188.66 214.26 L189.80 215.39 L191.18 216.74 L192.33 217.86 L193.73 219.19 M197.26 222.48 L198.21 223.35 L199.16 224.21 L200.12 225.07 L201.08 225.92 L202.05 226.77 L203.01 227.62 L203.99 228.46 M207.42 231.37 L208.41 232.19 L209.40 233.01 L210.40 233.83 L211.40 234.64 L212.40 235.44 L213.41 236.25 L214.42 237.04 M217.98 239.81 L219.01 240.59 L220.04 241.36 L221.07 242.14 L222.10 242.91 L223.14 243.67 L224.18 244.43 L225.48 245.38 M228.90 247.81 L230.22 248.73 L231.54 249.65 L232.87 250.56 L234.21 251.47 L235.55 252.37 L236.89 253.27 L238.51 254.33 M242.03 256.61 L243.12 257.31 L244.21 258.00 L245.30 258.69 L246.40 259.37 L247.50 260.05 L248.60 260.73 L249.98 261.57 M253.86 263.89 L254.97 264.55 L256.09 265.20 L257.20 265.85 L258.32 266.49 L259.44 267.14 L260.57 267.78 L261.69 268.41 M265.36 270.45 L266.49 271.07 L267.63 271.69 L268.76 272.31 L269.90 272.92 L271.04 273.53 L272.18 274.13 L273.32 274.73 M277.33 276.81 L278.48 277.40 L279.63 277.98 L280.78 278.56 L282.23 279.29 L283.38 279.86 L284.54 280.43 L285.98 281.14 M290.05 283.10 L292.09 284.07 L294.13 285.02 L296.18 285.97 L298.52 287.04 L300.57 287.97 L302.63 288.89 L304.99 289.93 M309.42 291.86 L310.61 292.36 L311.79 292.86 L312.98 293.36 L314.17 293.86 L315.36 294.36 L316.55 294.85 L318.04 295.46 M322.22 297.15 L323.41 297.63 L324.61 298.11 L325.81 298.58 L327.01 299.05 L328.21 299.52 L329.41 299.98 L330.92 300.56 M335.14 302.16 L336.34 302.61 L337.55 303.06 L338.76 303.50 L339.97 303.95 L341.18 304.39 L342.39 304.83 L343.61 305.27 M347.55 306.67 L348.77 307.10 L349.99 307.53 L351.21 307.95 L352.73 308.47 L353.95 308.89 L355.17 309.31 L356.70 309.83 M360.98 311.26 L362.20 311.66 L363.43 312.06 L364.66 312.46 L365.88 312.86 L367.11 313.26 L368.34 313.65 L369.57 314.05 M373.87 315.40 L375.11 315.79 L376.34 316.17 L377.57 316.55 L378.81 316.93 L380.04 317.31 L381.27 317.68 L382.82 318.15 M387.15 319.44 L388.39 319.80 L389.62 320.17 L390.86 320.53 L392.10 320.89 L393.34 321.25 L394.58 321.60 L396.13 322.05 M397.68 322.49 L398.92 322.84 L400.17 323.19 L401.41 323.54 L402.65 323.88 L403.90 324.23 L405.14 324.57 L406.69 325.00 M411.05 326.18 L412.30 326.52 L413.54 326.85 L414.79 327.18 L416.04 327.51 L417.28 327.84 L418.53 328.17 L420.09 328.57 M424.15 329.62 L425.40 329.94 L426.65 330.26 L427.90 330.58 L429.47 330.97 L430.72 331.28 L431.97 331.60 L433.53 331.98 M437.92 333.06 L439.17 333.36 L440.42 333.67 L441.68 333.97 L442.93 334.27 L444.19 334.57 L445.44 334.86 L447.01 335.23 M451.09 336.19 L452.35 336.48 L453.61 336.77 L454.86 337.05 L456.12 337.34 L457.38 337.62 L458.64 337.91 L460.21 338.26 M464.61 339.24 L465.87 339.52 L467.13 339.79 L468.39 340.07 L469.65 340.34 L470.91 340.61 L472.17 340.88 L473.75 341.22 M477.85 342.09 L479.11 342.35 L480.37 342.61 L481.64 342.88 L483.21 343.20 L484.48 343.46 L485.74 343.72 L487.32 344.04 M491.42 344.87 L492.69 345.12 L493.95 345.37 L495.22 345.62 L496.80 345.94 L498.06 346.18 L499.33 346.43 L500.91 346.74" fill="none" stroke="#ff0000" stroke-width="2.5"/>
<path d="M128.58 393.39 L129.04 393.06 L129.49 392.72 L129.95 392.39 L130.41 392.06 L130.87 391.73 L131.33 391.40 L131.79 391.07 L132.25 390.75 L132.72 390.42 L133.18 390.10 L133.65 389.78 L134.11 389.45 L134.58 389.13 L135.04 388.82 L135.51 388.50 L135.98 388.18 L136.45 387.87 L136.92 387.55 L137.39 387.24 L137.86 386.93 L138.33 386.62 L138.81 386.31 L139.28 386.00 L139.75 385.70 L140.23 385.39 L140.71 385.09 L141.18 384.78 L141.66 384.48 L142.14 384.18 L142.62 383.88 L143.09 383.58 L143.57 383.28 L144.06 382.99 L144.54 382.69 L145.02 382.40 L145.50 382.10 L145.98 381.81 L146.47 381.52 L146.95 381.23 L147.44 380.94 L147.92 380.66 L148.41 380.37 L148.90 380.08 L149.38 379.80 L149.87 379.52 L150.36 379.23 L150.85 378.95 L151.34 378.67 L151.83 378.39 L152.32 378.11 L152.81 377.84 L153.30 377.56 L153.80 377.28 L154.29 377.01 L154.78 376.74 L155.28 376.46 L155.77 376.19 L156.27 375.92 L156.76 375.65 L157.26 375.38 L157.76 375.11 L158.26 374.85 L158.75 374.58 L159.25 374.32 L159.75 374.05 L160.25 373.79 L160.75 373.53 L161.25 373.27 L161.75 373.00 L162.25 372.74 L162.75 372.49 L163.26 372.23 L163.76 371.97 L164.26 371.71 L164.77 371.46 L165.27 371.20 L165.77 370.95 L166.28 370.70 L166.78 370.45 L167.29 370.19 L167.80 369.94 L168.30 369.69 L168.81 369.45 L169.32 369.20 L169.82 368.95 L170.33 368.70 L170.84 368.46 L171.35 368.21 L171.86 367.97 L172.37 367.72 L172.88 367.48 L173.39 367.24 L173.90 367.00 L174.41 366.76 L174.92 366.52 L175.43 366.28 L175.94 366.04 L176.46 365.80 L176.97 365.56 L177.48 365.33 L178.00 365.09 L178.51 364.86 L179.02 364.62 L179.54 364.39 L180.05 364.16 L180.56 363.92 L181.08 363.69 L181.59 363.46 L182.11 363.23 L182.63 363.00 L183.14 362.77 L183.66 362.54 L184.17 362.31 L184.69 362.09 L185.21 361.86 L185.72 361.63 L186.24 361.41 L186.76 361.18 L187.28 360.96 L187.80 360.73 L188.31 360.51 L188.83 360.29 L189.35 360.07 L189.87 359.84 L190.39 359.62 L190.91 359.40 L191.43 359.18 L191.95 358.96 L192.47 358.75 L192.99 358.53 L193.51 358.31 L194.03 358.09 L194.56 357.88 L195.08 357.66 L195.60 357.45 L196.12 357.23 L196.64 357.02 L197.17 356.81 L197.69 356.59 L198.21 356.38 L198.74 356.17 L199.26 355.96 L199.78 355.75 L200.31 355.54 L200.83 355.33 L201.36 355.12 L201.88 354.91 L202.41 354.71 L202.93 354.50 L203.46 354.29 L203.98 354.09 L204.51 353.88 L205.03 353.68 L205.56 353.47 L206.09 353.27 L206.61 353.07 L207.14 352.86 L207.67 352.66 L208.19 352.46 L208.72 352.26 L209.25 352.06 L209.78 351.86 L210.30 351.66 L210.83 351.46 L211.36 351.26 L211.89 351.06 L212.42 350.86 L212.95 350.67 L213.48 350.47 L214.01 350.27 L214.54 350.08 L215.07 349.88 L215.60 349.69 L216.13 349.50 L216.66 349.30 L217.19 349.11 L217.72 348.92 L218.25 348.72 L218.78 348.53 L219.31 348.34 L219.84 348.15 L220.38 347.96 L220.91 347.77 L221.44 347.58 L221.97 347.39 L222.50 347.20 L223.04 347.02 L223.57 346.83 L224.10 346.64 L224.64 346.45 L225.17 346.27 L225.70 346.08 L226.24 345.90 L226.77 345.71 L227.30 345.53 L227.84 345.34 L228.37 345.16 L228.91 344.98 L229.44 344.79 L229.98 344.61 L230.51 344.43 L231.05 344.25 L231.58 344.07 L232.12 343.89 L232.65 343.71 L233.19 343.53 L233.72 343.35 L234.26 343.17 L234.80 342.99 L235.33 342.81 L235.87 342.64 L236.41 342.46 L236.94 342.28 L237.48 342.11 L238.02 341.93 L238.55 341.75 L239.09 341.58 L239.63 341.40 L240.17 341.23 L240.70 341.06 L241.24 340.88 L241.78 340.71 L242.32 340.54 L242.86 340.36 L243.39 340.19 L243.93 340.02 L244.47 339.85 L245.01 339.68 L245.55 339.51 L246.09 339.34 L246.63 339.17 L247.17 339.00 L247.70 338.83 L248.24 338.66 L248.78 338.49 L249.32 338.32 L249.86 338.15 L250.40 337.99 L250.94 337.82 L251.48 337.65 L252.02 337.49 L252.56 337.32 L253.10 337.15 L253.64 336.99 L254.18 336.82 L254.73 336.66 L255.27 336.49 L255.81 336.33 L256.35 336.17 L256.89 336.00 L257.43 335.84 L257.97 335.68 L258.51 335.51 L259.05 335.35 L259.60 335.19 L260.14 335.03 L260.68 334.87 L261.22 334.70 L261.76 334.54 L262.31 334.38 L262.85 334.22 L263.39 334.06 L263.93 333.90 L264.47 333.74 L265.02 333.58 L265.56 333.43 L266.10 333.27 L266.64 333.11 L267.19 332.95 L267.73 332.79 L268.27 332.64 L268.82 332.48 L269.36 332.32 L269.90 332.16 L270.44 332.01 L270.99 331.85 L271.53 331.70 L272.07 331.54 L272.62 331.39 L273.16 331.23 L273.70 331.08 L274.25 330.92 L274.79 330.77 L275.34 330.61 L275.88 330.46 L276.42 330.30 L276.97 330.15 L277.51 330.00 L278.05 329.85 L278.60 329.69 L279.14 329.54 L279.69 329.39 L280.23 329.24 L280.78 329.08 L281.32 328.93 L281.86 328.78 L282.41 328.63 L282.95 328.48 L283.50 328.33 L284.04 328.18 L284.59 328.03 L285.13 327.88 L285.68 327.73 L286.22 327.58 L286.77 327.43 L287.31 327.28 L287.86 327.13 L288.40 326.99 L288.95 326.84 L289.49 326.69 L290.04 326.54 L290.58 326.40 L291.13 326.25 L291.67 326.10 L292.22 325.95 L292.76 325.81 L293.31 325.66 L293.86 325.52 L294.40 325.37 L294.95 325.22 L295.49 325.08 L296.04 324.93 L296.58 324.79 L297.13 324.64 L297.68 324.50 L298.22 324.36 L298.77 324.21 L299.31 324.07 L299.86 323.92 L300.41 323.78 L300.95 323.64 L301.50 323.49 L302.05 323.35 L302.59 323.21 L303.14 323.07 L303.69 322.93 L304.23 322.78 L304.78 322.64 L305.33 322.50 L305.87 322.36 L306.42 322.22 L306.97 322.08 L307.51 321.94 L308.06 321.80 L308.61 321.66 L309.15 321.52 L309.70 321.38 L310.25 321.24 L310.80 321.10 L311.34 320.96 L311.89 320.82 L312.44 320.68 L312.99 320.54 L313.53 320.41 L314.08 320.27 L314.63 320.13 L315.18 319.99 L315.72 319.86 L316.27 319.72 L316.82 319.58 L317.37 319.45 L317.92 319.31 L318.46 319.17 L319.01 319.04 L319.56 318.90 L320.11 318.76 L320.66 318.63 L321.20 318.49 L321.75 318.36 L322.30 318.22 L322.85 318.09 L323.40 317.95 L323.95 317.82 L324.49 317.69 L325.04 317.55 L325.59 317.42 L326.14 317.28 L326.69 317.15 L327.24 317.02 L327.79 316.89 L328.33 316.75 L328.88 316.62 L329.43 316.49 L329.98 316.36 L330.53 316.22 L331.08 316.09 L331.63 315.96 L332.18 315.83 L332.73 315.70 L333.28 315.57 L333.83 315.44 L334.37 315.31 L334.92 315.17 L335.47 315.04 L336.02 314.91 L336.57 314.78 L337.12 314.65 L337.67 314.53 L338.22 314.40 L338.77 314.27 L339.32 314.14 L339.87 314.01 L340.42 313.88 L340.97 313.75 L341.52 313.62 L342.07 313.50 L342.62 313.37 L343.17 313.24 L343.72 313.11 L344.27 312.98 L344.82 312.86 L345.37 312.73 L345.92 312.60 L346.47 312.48 L347.02 312.35 L347.57 312.22 L348.12 312.10 L348.67 311.97 L349.22 311.85 L349.77 311.72 L350.32 311.60 L350.87 311.47 L351.42 311.34 L351.97 311.22 L352.53 311.09 L353.08 310.97 L353.63 310.85 L354.18 310.72 L354.73 310.60 L355.28 310.47 L355.83 310.35 L356.38 310.23 L356.93 310.10 L357.48 309.98 L358.03 309.86 L358.59 309.73 L359.14 309.61 L359.69 309.49 L360.24 309.37 L360.79 309.24 L361.34 309.12 L361.89 309.00 L362.44 308.88 L363.00 308.75 L363.55 308.63 L364.10 308.51 L364.65 308.39 L365.20 308.27 L365.75 308.15 L366.30 308.03 L366.86 307.91 L367.41 307.79 L367.96 307.67 L368.51 307.55 L369.06 307.43 L369.62 307.31 L370.17 307.19 L370.72 307.07 L371.27 306.95 L371.82 306.83 L372.37 306.71 L372.93 306.59 L373.48 306.47 L374.03 306.35 L374.58 306.23 L375.14 306.12 L375.69 306.00 L376.24 305.88 L376.79 305.76 L377.34 305.64 L377.90 305.53 L378.45 305.41 L379.00 305.29 L379.55 305.17 L380.11 305.06 L380.66 304.94 L381.21 304.82 L381.76 304.71 L382.32 304.59 L382.87 304.47 L383.42 304.36 L383.97 304.24 L384.53 304.12 L385.08 304.01 L385.63 303.89 L386.19 303.78 L386.74 303.66 L387.29 303.55 L387.84 303.43 L388.40 303.32 L388.95 303.20 L389.50 303.09 L390.06 302.97 L390.61 302.86 L391.16 302.74 L391.71 302.63 L392.27 302.51 L392.82 302.40 L393.37 302.29 L393.93 302.17 L394.48 302.06 L395.03 301.95 L395.59 301.83 L396.14 301.72 L396.69 301.61 L397.25 301.49 L397.80 301.38 L398.35 301.27 L398.91 301.15 L399.46 301.04 L400.01 300.93 L400.57 300.82 L401.12 300.70 L401.68 300.59 L402.23 300.48 L402.78 300.37 L403.34 300.26 L403.89 300.15 L404.44 300.03 L405.00 299.92 L405.55 299.81 L406.10 299.70 L406.66 299.59 L407.21 299.48 L407.77 299.37 L408.32 299.26 L408.87 299.15 L409.43 299.03 L409.98 298.92 L410.54 298.81 L411.09 298.70 L411.64 298.59 L412.20 298.48 L412.75 298.37 L413.31 298.26 L413.86 298.15 L414.41 298.05 L414.97 297.94 L415.52 297.83 L416.08 297.72 L416.63 297.61 L417.19 297.50 L417.74 297.39 L418.29 297.28 L418.85 297.17 L419.40 297.06 L419.96 296.96 L420.51 296.85 L421.07 296.74 L421.62 296.63 L422.18 296.52 L422.73 296.41 L423.28 296.31 L423.84 296.20 L424.39 296.09 L424.95 295.98 L425.50 295.87 L426.06 295.77 L426.61 295.66 L427.17 295.55 L427.72 295.45 L428.28 295.34 L428.83 295.23 L429.38 295.12 L429.94 295.02 L430.49 294.91 L431.05 294.80 L431.60 294.70 L432.16 294.59 L432.71 294.48 L433.27 294.38 L433.82 294.27 L434.38 294.17 L434.93 294.06 L435.49 293.95 L436.04 293.85 L436.60 293.74 L437.15 293.64 L437.71 293.53 L438.26 293.42 L438.82 293.32 L439.37 293.21 L439.93 293.11 L440.48 293.00 L441.04 292.90 L441.59 292.79 L442.15 292.69 L442.70 292.58 L443.26 292.48 L443.81 292.37 L444.37 292.27 L444.92 292.16 L445.48 292.06 L446.03 291.95 L446.59 291.85 L447.14 291.75 L447.70 291.64 L448.25 291.54 L448.81 291.43 L449.37 291.33 L449.92 291.22 L450.48 291.12 L451.03 291.02 L451.59 290.91 L452.14 290.81 L452.70 290.71 L453.25 290.60 L453.81 290.50 L454.36 290.39 L454.92 290.29 L455.47 290.19 L456.03 290.08 L456.59 289.98 L457.14 289.88 L457.70 289.77 L458.25 289.67 L458.81 289.57 L459.36 289.47 L459.92 289.36 L460.47 289.26 L461.03 289.16 L461.58 289.05 L462.14 288.95 L462.70 288.85 L463.25 288.75 L463.81 288.64 L464.36 288.54 L464.92 288.44 L465.47 288.34 L466.03 288.23 L466.58 288.13 L467.14 288.03 L467.70 287.93 L468.25 287.83 L468.81 287.72 L469.36 287.62 L469.92 287.52 L470.47 287.42 L471.03 287.32 L471.59 287.21 L472.14 287.11 L472.70 287.01 L473.25 286.91 L473.81 286.81 L474.36 286.71 L474.92 286.60 L475.48 286.50 L476.03 286.40 L476.59 286.30 L477.14 286.20 L477.70 286.10 L478.25 286.00 L478.81 285.89 L479.37 285.79 L479.92 285.69 L480.48 285.59 L481.03 285.49 L481.59 285.39 L482.15 285.29 L482.70 285.19 L483.26 285.08 L483.81 284.98 L484.37 284.88 L484.92 284.78 L485.48 284.68 L486.04 284.58 L486.59 284.48 L487.15 284.38 L487.70 284.28 L488.26 284.18 L488.82 284.08 L489.37 283.98 L489.93 283.88 L490.48 283.77 L491.04 283.67 L491.59 283.57 L492.15 283.47 L492.71 283.37 L493.26 283.27 L493.82 283.17 L494.37 283.07 L494.93 282.97 L495.49 282.87 L496.04 282.77 L496.60 282.67 L497.15 282.57 L497.71 282.47 L498.26 282.37 L498.82 282.27 L499.38 282.17 L499.93 282.07 L500.49 281.97 L501.04 281.87 L501.60 281.77 L502.16 281.67 L502.71 281.57 L503.27 281.47 L503.82 281.37 L504.38 281.27" fill="none" stroke="#ff00ff" stroke-width="2.5" stroke-linejoin="round" stroke-linecap="butt"/>
<path d="M128.58 393.39 L129.86 392.46 L131.14 391.53 L132.44 390.62 L133.73 389.71 L135.04 388.82 L136.35 387.93 L137.67 387.06 L138.99 386.19 L140.32 385.33 L141.65 384.49 L142.99 383.65 L144.33 382.82 L145.68 382.00 L147.03 381.18 L148.39 380.38 L149.76 379.58 L151.13 378.79 L152.50 378.01 L153.88 377.24 L155.26 376.47 L156.64 375.72 L158.03 374.97 L159.43 374.22 L160.82 373.49 L162.23 372.76 L163.63 372.04 L165.04 371.32" fill="none" stroke="#ff00ff" stroke-width="2.7" stroke-linejoin="round" stroke-linecap="round"/>
<rect x="106.7" y="38.5" width="398.85" height="406.9" fill="none" stroke="#000" stroke-width="2.7"/>
<g font-size="32" stroke="#000" stroke-width="0.25" style="opacity:0.999">
<text transform="translate(69.2 440) scale(1 1.06)" text-anchor="start">0</text>
<text transform="translate(69.2 277.29) scale(1 1.06)" text-anchor="start">5</text>
<text transform="translate(51.41 114.58) scale(1 1.06)" text-anchor="start">10</text>
<text transform="translate(534.1 441.35) scale(1 1.06)" text-anchor="start">0</text>
<text transform="translate(534.1 343.4) scale(1 1.06)" text-anchor="start">0.2</text>
<text transform="translate(534.1 245.45) scale(1 1.06)" text-anchor="start">0.4</text>
<text transform="translate(534.1 147.5) scale(1 1.06)" text-anchor="start">0.6</text>
<text transform="translate(534.1 49.55) scale(1 1.06)" text-anchor="start">0.8</text>
<text transform="translate(102.3 488.2) scale(1 1.04)" text-anchor="start">1</text>
<text transform="translate(159.83 488.2) scale(1 1.04)" text-anchor="start">1.01</text>
<text transform="translate(239.6 488.2) scale(1 1.04)" text-anchor="start">1.02</text>
<text transform="translate(319.37 488.2) scale(1 1.04)" text-anchor="start">1.03</text>
<text transform="translate(399.14 488.2) scale(1 1.04)" text-anchor="start">1.04</text>
<text transform="translate(478.91 488.2) scale(1 1.04)" text-anchor="start">1.05</text>
<text x="0" y="533.2"><tspan class="sym" font-size="35" x="272.5" stroke-width="0.7">&#969;</tspan><tspan x="294.2">/</tspan><tspan class="sym" font-size="35" x="303.9" stroke-width="0.7">&#969;</tspan><tspan font-size="25.6" x="325.2" dy="9.6">p</tspan></text>
<text transform="translate(58.6 227) rotate(-90)" text-anchor="start" letter-spacing="0.25">u<tspan font-size="25.6" dy="10">x</tspan><tspan dy="-10">, a</tspan></text>
<text transform="translate(560.9 199.3) rotate(-90)" text-anchor="start">n</text>
<text transform="translate(679.6 63)" text-anchor="end">u<tspan font-size="25.6" dy="8.2">x</tspan></text>
<text transform="translate(679.6 97.7)" text-anchor="end">a</text>
<text transform="translate(680 129.8)" text-anchor="end">n</text>
</g>
<rect x="52.11" y="111.3" width="7.18" height="5.23" fill="#fff"/>
<rect x="62.45" y="111.3" width="6.6" height="5.23" fill="#fff"/>
<rect x="103" y="484.95" width="7.18" height="5.2" fill="#fff"/>
<rect x="113.34" y="484.95" width="6.6" height="5.2" fill="#fff"/>
<rect x="160.53" y="484.95" width="7.18" height="5.2" fill="#fff"/>
<rect x="170.87" y="484.95" width="6.6" height="5.2" fill="#fff"/>
<rect x="205.01" y="484.95" width="7.18" height="5.2" fill="#fff"/>
<rect x="215.35" y="484.95" width="6.6" height="5.2" fill="#fff"/>
<rect x="240.3" y="484.95" width="7.18" height="5.2" fill="#fff"/>
<rect x="250.64" y="484.95" width="6.6" height="5.2" fill="#fff"/>
<rect x="320.07" y="484.95" width="7.18" height="5.2" fill="#fff"/>
<rect x="330.41" y="484.95" width="6.6" height="5.2" fill="#fff"/>
<rect x="399.84" y="484.95" width="7.18" height="5.2" fill="#fff"/>
<rect x="410.18" y="484.95" width="6.6" height="5.2" fill="#fff"/>
<rect x="479.61" y="484.95" width="7.18" height="5.2" fill="#fff"/>
<rect x="489.95" y="484.95" width="6.6" height="5.2" fill="#fff"/>
<line x1="698.8" y1="54.5" x2="791.3" y2="54.5" stroke="#ff0000" stroke-width="2.5"/>
<line x1="698.8" y1="86.9" x2="791.3" y2="86.9" stroke="#0000ff" stroke-width="2.5"/>
<line x1="698.8" y1="119.3" x2="791.3" y2="119.3" stroke="#ff00ff" stroke-width="2.5"/>
</svg></body></html>
